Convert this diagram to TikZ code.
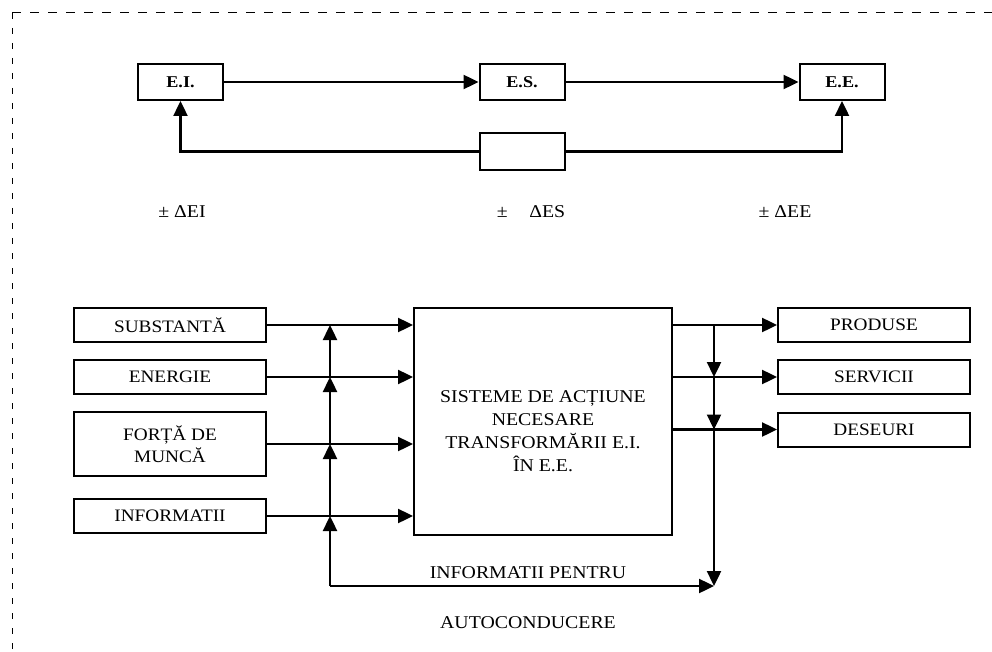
\documentclass[tikz,border=0pt]{standalone}
\usepackage{fontspec}
\setmainfont[FakeStretch=1.1]{Liberation Serif}
\usetikzlibrary{arrows.meta}
\tikzset{
  blk/.style={draw, line width=2pt, inner sep=0pt, align=center,
    font=\fontsize{17.5}{22}\selectfont},
  topblk/.style={blk, minimum width=85pt, minimum height=36pt,
    font=\fontsize{16.5}{18}\selectfont\bfseries},
  inblk/.style={blk, minimum width=192pt, minimum height=34pt},
  outblk/.style={blk, minimum width=192pt, minimum height=34pt},
  arr/.style={line width=2.4pt, -{Triangle[length=15pt, width=14pt]}},
  lbl/.style={inner sep=0pt, align=center, font=\fontsize{18}{23}\selectfont}
}

\begin{document}
\begin{tikzpicture}[x=1pt,y=-1pt]
\useasboundingbox (0,0) rectangle (992,652);
\draw[line width=1pt, dash pattern=on 9pt off 9pt] (12,13) -- (992,13);
\draw[line width=1pt, dash pattern=on 6pt off 9pt] (12,13) -- (12,652);
\node[topblk] (ei) at (180.5,82) {E.I.};
\node[topblk] (es) at (522,82) {E.S.};
\node[topblk] (ee) at (842,82) {E.E.};
\node[topblk, minimum height=37pt] (fb) at (522,151.5) {};
\draw[arr] (ei.east) -- (es.west);
\draw[arr] (es.east) -- (ee.west);
\draw[arr] (fb.west) -| (ei.south);
\draw[arr] (fb.east) -| (ee.south);
\node[lbl] (dei) at (182,212) {± ΔEI};
\node[lbl] (des) at (531,212) {±\hspace{1.2em}ΔES};
\node[lbl] (dee) at (785,212) {± ΔEE};
\node[inblk] (subst) at (170,325) {SUBSTANTĂ};
\node[inblk] (energ) at (170,377) {ENERGIE};
\node[inblk, minimum height=64pt] (forta) at (170,444) {FORȚĂ DE\\MUNCĂ};
\node[inblk] (info) at (170,516) {INFORMATII};
\node[blk, minimum width=258pt, minimum height=227pt] (sys) at (543,421) {};
\node[lbl] (systxt) at (543,431)
  {SISTEME DE ACȚIUNE\\NECESARE\\TRANSFORMĂRII E.I.\\ÎN E.E.};
\node[outblk] (prod) at (874,325) {PRODUSE};
\node[outblk] (serv) at (874,377) {SERVICII};
\node[outblk] (deseu) at (874,429.5) {DESEURI};
\coordinate (busL) at (330,586);
\coordinate (busR) at (714,586);
\draw[arr] (subst.east) -- (subst.east -| sys.west);
\draw[arr] (energ.east) -- (energ.east -| sys.west);
\draw[arr] (forta.east) -- (forta.east -| sys.west);
\draw[arr] (info.east) -- (info.east -| sys.west);
\draw[arr] (busL) -- (busL |- info.east);
\draw[arr] (busL |- info.east) -- (busL |- forta.east);
\draw[arr] (busL |- forta.east) -- (busL |- energ.east);
\draw[arr] (busL |- energ.east) -- (busL |- subst.east);
\draw[arr] (prod.west -| sys.east) -- (prod.west);
\draw[arr] (serv.west -| sys.east) -- (serv.west);
\draw[arr] (deseu.west -| sys.east) -- (deseu.west);
\draw[arr] (busR |- prod.west) -- (busR |- serv.west);
\draw[arr] (busR |- serv.west) -- (busR |- deseu.west);
\draw[arr] (busR |- deseu.west) -- (busR);
\draw[arr] (busL) -- (busR);
\node[lbl] (infop) at (528,573) {INFORMATII PENTRU};
\node[lbl] (autoc) at (528,623) {AUTOCONDUCERE};
\end{tikzpicture}
\end{document}
